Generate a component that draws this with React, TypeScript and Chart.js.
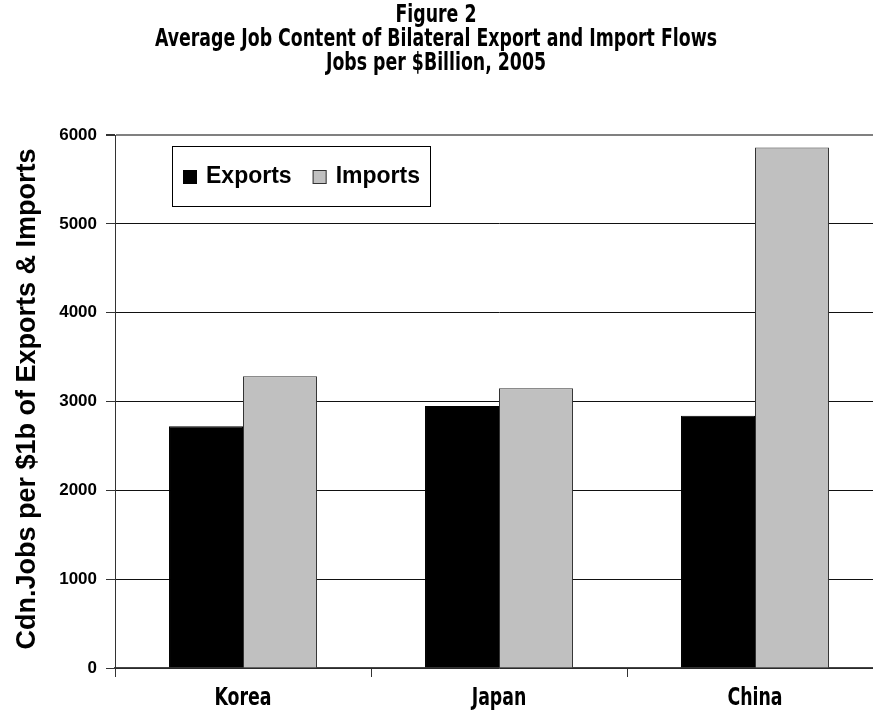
import React, { useEffect, useRef } from 'react';
import { Chart, registerables } from 'chart.js';

Chart.register(...registerables);

const categories = ['Korea', 'Japan', 'China'];
const seriesLabels = ['Exports', 'Imports'];
const exportsValues = [2720, 2950, 2840];
const importsValues = [3285, 3150, 5860];
const titleLines = [
  'Figure 2',
  'Average Job Content of Bilateral Export and Import Flows',
  'Jobs per $Billion, 2005',
];
const yAxisTitle = 'Cdn.Jobs per $1b of Exports & Imports';
const yMin = 0;
const yMax = 6000;
const yStep = 1000;

const CONDENSED = '"DejaVu Sans Condensed", "DejaVu Sans", sans-serif';
const ARIAL = '"Liberation Sans", Arial, sans-serif';

function condensedText(ctx: CanvasRenderingContext2D, text: string, cx: number, cy: number, sx: number) {
  ctx.save();
  ctx.translate(cx, cy);
  ctx.scale(sx, 1);
  ctx.fillText(text, 0, 0);
  ctx.restore();
}

const decorPlugin = {
  id: 'decor',
  afterDraw(chart: any) {
    const ctx: CanvasRenderingContext2D = chart.ctx;
    // title
    ctx.save();
    ctx.fillStyle = '#000';
    ctx.textAlign = 'center';
    ctx.textBaseline = 'middle';
    ctx.font = `bold 24px ${CONDENSED}`;
    const sx = 562 / ctx.measureText(titleLines[1]).width;
    const ys = [16, 40, 64];
    titleLines.forEach((t, i) => condensedText(ctx, t, 436, ys[i], sx));
    // x category labels
    ctx.font = `bold 24px ${CONDENSED}`;
    const xs = chart.scales.x;
    categories.forEach((c, i) => condensedText(ctx, c, xs.getPixelForValue(i), 699, sx));
    ctx.restore();

    // y axis title
    ctx.save();
    ctx.fillStyle = '#000';
    ctx.translate(28, 399);
    ctx.rotate(-Math.PI / 2);
    ctx.textAlign = 'center';
    ctx.textBaseline = 'middle';
    ctx.font = `bold 27px ${ARIAL}`;
    ctx.fillText(yAxisTitle, 0, 0);
    ctx.restore();

    // legend
    ctx.save();
    ctx.fillStyle = '#fff';
    ctx.fillRect(172, 146, 258, 60);
    ctx.strokeStyle = '#000';
    ctx.lineWidth = 1;
    ctx.strokeRect(172.5, 146.5, 258, 60);
    ctx.font = `bold 23px ${ARIAL}`;
    ctx.textAlign = 'left';
    ctx.textBaseline = 'middle';
    let x = 183;
    const cy = 177;
    chart.data.datasets.forEach((ds: any) => {
      ctx.fillStyle = ds.backgroundColor;
      ctx.fillRect(x, cy - 7, 14, 14);
      ctx.strokeStyle = ds.borderColor;
      ctx.lineWidth = 1;
      ctx.strokeRect(x + 0.5, cy - 6.5, 13, 13);
      ctx.fillStyle = '#000';
      ctx.fillText(ds.label, x + 23, cy);
      x += 23 + ctx.measureText(ds.label).width + 21;
    });
    ctx.restore();
  },
};

export default function App() {
  const ref = useRef<HTMLCanvasElement>(null);
  useEffect(() => {
    if (!ref.current) return;
    const chart = new Chart(ref.current, {
      type: 'bar',
      data: {
        labels: categories,
        datasets: [
          {
            label: seriesLabels[0],
            data: exportsValues,
            backgroundColor: '#000000',
            borderColor: '#000000',
            borderWidth: 1,
          },
          {
            label: seriesLabels[1],
            data: importsValues,
            backgroundColor: '#c0c0c0',
            borderColor: '#333333',
            borderWidth: 1,
          },
        ],
      },
      options: {
        animation: false,
        responsive: false,
        layout: { padding: { top: 135, left: 0, right: 7, bottom: 0 } },
        datasets: { bar: { categoryPercentage: 0.578, barPercentage: 1 } },
        plugins: {
          legend: { display: false },
          title: { display: false },
          tooltip: { enabled: false },
        },
        scales: {
          x: {
            afterFit: (s: any) => { s.height = 43; },
            grid: {
              drawOnChartArea: false,
              drawTicks: true,
              tickLength: 9,
              color: '#333',
              offset: true,
            },
            border: { display: true, color: '#444', width: 1.5 },
            ticks: { display: false },
          },
          y: {
            min: yMin,
            max: yMax,
            afterFit: (s: any) => { s.width = 115; },
            ticks: {
              stepSize: yStep,
              color: '#000',
              font: { family: ARIAL, size: 17, weight: 'bold' },
              padding: 9,
              callback: (v: any) => String(v),
            },
            grid: {
              color: (c: any) => (c.tick && c.tick.value === yMax ? '#808080' : '#111'),
              lineWidth: (c: any) => (c.tick && c.tick.value === yMax ? 2 : 1),
              tickColor: '#333',
              tickLength: 9,
            },
            border: { display: true, color: '#333', width: 1 },
          },
        },
      },
      plugins: [decorPlugin],
    });
    return () => chart.destroy();
  }, []);
  return (
    <div style={{ position: 'fixed', left: 0, top: 0, width: 873, height: 711, overflow: 'hidden', background: '#fff' }}>
      <canvas ref={ref} width={890} height={711} style={{ display: 'block' }} />
    </div>
  );
}
